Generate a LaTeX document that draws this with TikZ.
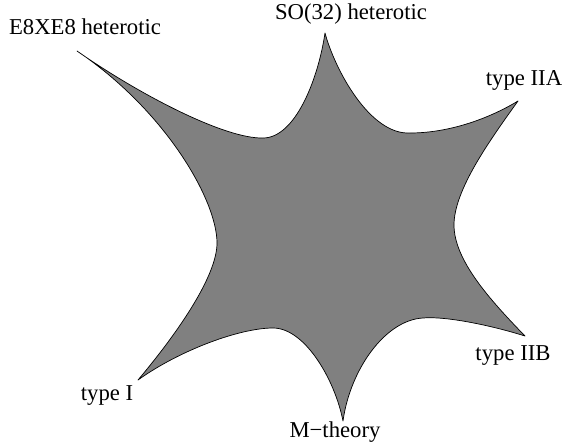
\documentclass[tikz,border=0pt]{standalone}
\usepackage{fontspec}
\setmainfont{Liberation Serif}
\begin{document}
\begin{tikzpicture}[x=1pt,y=-1pt,
  lbl/.style={anchor=base,inner sep=0pt,font=\fontsize{22.7}{27}\selectfont}]
\useasboundingbox (0,0) rectangle (568,445);
% tips of the star
\coordinate (het) at (77,51);
\coordinate (so) at (325,33);
\coordinate (iia) at (518,101);
\coordinate (iib) at (525,336);
\coordinate (m) at (343,421);
\coordinate (one) at (138,380);
% valleys between them
\coordinate (va) at (263,138);
\coordinate (vb) at (410,133);
\coordinate (vc) at (454,225);
\coordinate (vd) at (423,318);
\coordinate (ve) at (273,328);
\coordinate (vf) at (217,243);
\filldraw[fill=gray,draw=black,line width=0.7pt,line join=round]
  (het) .. controls (140,95) and (225,139) .. (va)
  .. controls (295,138) and (318,80) .. (so)
  .. controls (335,70) and (370,135) .. (vb)
  .. controls (450,133) and (490,118) .. (iia)
  .. controls (490,140) and (454,190) .. (vc)
  .. controls (454,260) and (490,300) .. (iib)
  .. controls (490,325) and (445,316) .. (vd)
  .. controls (385,320) and (350,370) .. (m)
  .. controls (335,380) and (305,328) .. (ve)
  .. controls (240,328) and (180,350) .. (one)
  .. controls (180,330) and (217,275) .. (vf)
  .. controls (217,200) and (165,110) .. (het) -- cycle;
% labels
\node[lbl] (hetlbl) at (85,34) {E8XE8 heterotic};
\node[lbl] (solbl) at (351,19) {SO(32) heterotic};
\node[lbl] (iialbl) at (524,85) {type IIA};
\node[lbl] (iiblbl) at (513,360) {type IIB};
\node[lbl] (mlbl) at (335,437) {M−theory};
\node[lbl] (onelbl) at (107,400) {type I};
\end{tikzpicture}
\end{document}
